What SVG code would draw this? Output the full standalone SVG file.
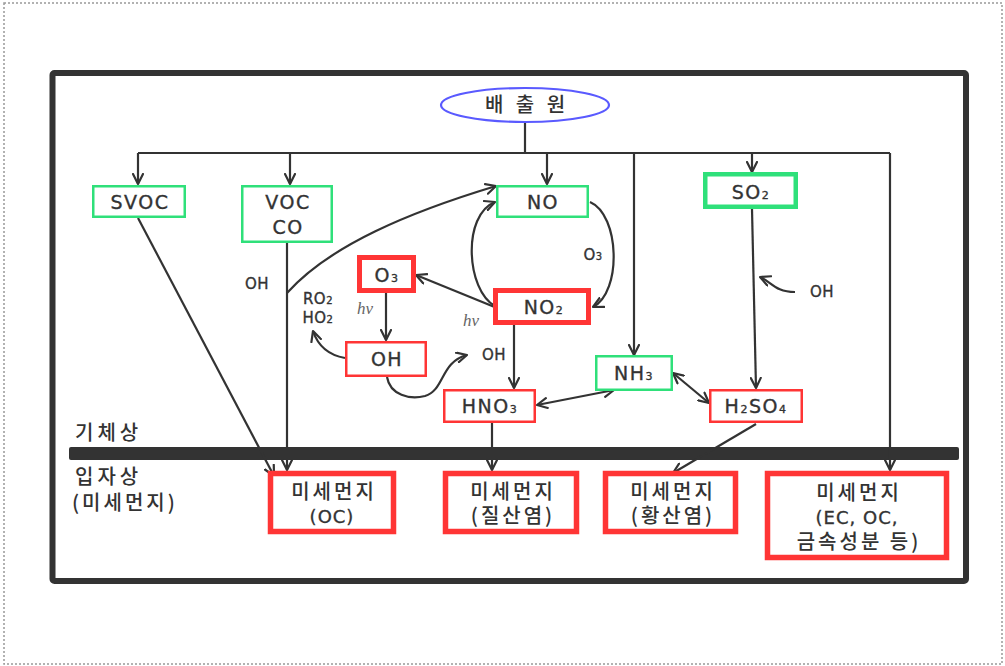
<svg xmlns="http://www.w3.org/2000/svg" width="1005" height="666" viewBox="0 0 1005 666">
<defs>
<marker id="ah" viewBox="0 0 12 12" refX="11" refY="6" markerWidth="12" markerHeight="12" markerUnits="userSpaceOnUse" orient="auto-start-reverse">
<path d="M1,1 L11,6 L1,11" fill="none" stroke="#333" stroke-width="2.2" stroke-linecap="round" stroke-linejoin="round"/>
</marker>
</defs>
<style>
.g{fill:#fff;stroke:#2fe07a;stroke-width:2.5}
.gt{fill:#fff;stroke:#2fe07a;stroke-width:4.5}
.r{fill:#fff;stroke:#ff3535;stroke-width:2.5}
.rt{fill:#fff;stroke:#ff3535;stroke-width:5}
.pm{fill:#fff;stroke:#ff3535;stroke-width:5.5}
.lat{font-family:"DejaVu Sans","Noto Sans",sans-serif;fill:#333;text-anchor:middle;stroke:#333;stroke-width:0.35}
.big{font-size:19px;letter-spacing:1.5px}
.sm{font-size:15px;letter-spacing:0.5px}
.kr{font-family:"Noto Sans CJK KR","Noto Sans",sans-serif;fill:#333;font-weight:500}
.krm{font-size:20px;letter-spacing:3px;text-anchor:middle}
.hv{font-family:"Liberation Serif",serif;font-style:italic;font-size:17px;fill:#666}
.c{fill:none;stroke:#333;stroke-width:2.2}
.a{marker-end:url(#ah)}
.aa{marker-end:url(#ah);marker-start:url(#ah)}
</style>
<rect x="4" y="3" width="998" height="661" fill="none" stroke="#999" stroke-width="1.5" stroke-dasharray="2 2"/>
<rect x="52.5" y="73" width="913.5" height="508" fill="none" stroke="#333" stroke-width="6" rx="2"/>
<rect x="69" y="447" width="890" height="13" fill="#333" rx="2"/>
<text class="kr" x="75" y="440" font-size="20" letter-spacing="4">기체상</text>
<text class="kr" x="75" y="484" font-size="20" letter-spacing="4">입자상</text>
<text class="kr" x="72" y="510" font-size="20" letter-spacing="3">(미세먼지)</text>

<g id="connectors">
<path class="c" d="M525,122 V153 M138,153 H890"/>
<path class="c a" d="M138,153 V184"/>
<path class="c a" d="M290,153 V184"/>
<path class="c a" d="M547,153 V184"/>
<path class="c a" d="M634,153 V355"/>
<path class="c a" d="M752,153 V172"/>
<path class="c a" d="M890,153 V470"/>
<path class="c a" d="M138,218 L274,476"/>
<path class="c a" d="M287,243 V470"/>
<path class="c a" d="M287,293 C330,245 410,212 496,186"/>
<path class="c a" d="M495,306 C466,290 462,215 495,202"/>
<path class="c a" d="M590,202 C620,215 622,292 593,307"/>
<path class="c a" d="M497,308 L416,275"/>
<path class="c a" d="M386,293 V340"/>
<path class="c a" d="M345,358 C328,355 318,346 313,331"/>
<path class="c a" d="M387,377 C390,395 410,400 425,396 C445,390 440,362 467,355"/>
<path class="c a" d="M514,325 V388"/>
<path class="c aa" d="M537,405 L614,390"/>
<path class="c aa" d="M673,373 L709,403"/>
<path class="c a" d="M752,209 L756,388"/>
<path class="c a" d="M795,292 C775,292 772,282 760,277"/>
<path class="c a" d="M756,424 L673,473"/>
<path class="c a" d="M492,423 V470"/>
</g>

<g id="source">
<ellipse cx="525" cy="105" rx="84" ry="17" fill="#fff" stroke="#5a5aff" stroke-width="2.2"/>
<text class="kr" x="527" y="112" font-size="20" font-weight="bold" letter-spacing="4" text-anchor="middle">배 출 원</text>
</g>
<g id="svoc"><rect class="g" x="93.25" y="186.25" width="91.5" height="30.5"/><text class="lat big" x="140" y="209">SVOC</text></g>
<g id="voc"><rect class="g" x="242.25" y="186.25" width="89.5" height="55.5"/><text class="lat big" x="288" y="209">VOC</text><text class="lat big" x="288" y="234">CO</text></g>
<g id="no"><rect class="g" x="497.25" y="186.25" width="90.5" height="30.5"/><text class="lat big" x="543" y="209">NO</text></g>
<g id="so2"><rect class="gt" x="705.25" y="174.25" width="90.5" height="32.5"/><text class="lat big" x="751" y="199">SO<tspan font-size="11">2</tspan></text></g>
<g id="o3"><rect class="rt" x="359.5" y="257.5" width="54" height="33"/><text class="lat big" x="387" y="282">O<tspan font-size="11">3</tspan></text></g>
<g id="no2"><rect class="rt" x="495.5" y="290.5" width="93" height="32"/><text class="lat big" x="544" y="314">NO<tspan font-size="11">2</tspan></text></g>
<g id="oh"><rect class="r" x="346.25" y="342.25" width="79.5" height="33.5"/><text class="lat big" x="387" y="366">OH</text></g>
<g id="hno3"><rect class="r" x="444.25" y="390.25" width="90.5" height="31.5"/><text class="lat big" x="490" y="413">HNO<tspan font-size="11">3</tspan></text></g>
<g id="nh3"><rect class="g" x="596.25" y="356.25" width="75.5" height="33.5"/><text class="lat big" x="634" y="380">NH<tspan font-size="11">3</tspan></text></g>
<g id="h2so4"><rect class="r" x="710.25" y="390.25" width="91.5" height="31.5"/><text class="lat big" x="756" y="413">H<tspan font-size="11">2</tspan>SO<tspan font-size="11">4</tspan></text></g>

<g id="labels">
<text class="lat sm" x="257" y="289">OH</text>
<text class="lat sm" x="318" y="304">RO<tspan font-size="10">2</tspan></text>
<text class="lat sm" x="318" y="323">HO<tspan font-size="10">2</tspan></text>
<text class="lat sm" x="593" y="260">O<tspan font-size="10">3</tspan></text>
<text class="lat sm" x="494" y="360">OH</text>
<text class="lat sm" x="822" y="297">OH</text>
<text class="hv" x="357" y="314">hν</text>
<text class="hv" x="463" y="326">hν</text>
</g>

<g id="pm-oc"><rect class="pm" x="270.5" y="473.5" width="123" height="58"/><text class="kr krm" x="334" y="499">미세먼지</text><text class="lat" x="332" y="523" font-size="18" letter-spacing="1">(OC)</text></g>
<g id="pm-nitrate"><rect class="pm" x="445.5" y="473.5" width="131" height="58"/><text class="kr krm" x="513" y="499">미세먼지</text><text class="kr krm" x="513" y="523">(질산염)</text></g>
<g id="pm-sulfate"><rect class="pm" x="605.5" y="473.5" width="130" height="58"/><text class="kr krm" x="673" y="499">미세먼지</text><text class="kr krm" x="673" y="523">(황산염)</text></g>
<g id="pm-ec"><rect class="pm" x="767.5" y="473.5" width="179" height="84"/><text class="kr krm" x="859" y="500">미세먼지</text><text class="lat" x="857" y="524" font-size="18" letter-spacing="1">(EC, OC,</text><text class="kr krm" x="859" y="549">금속성분 등)</text></g>
</svg>
